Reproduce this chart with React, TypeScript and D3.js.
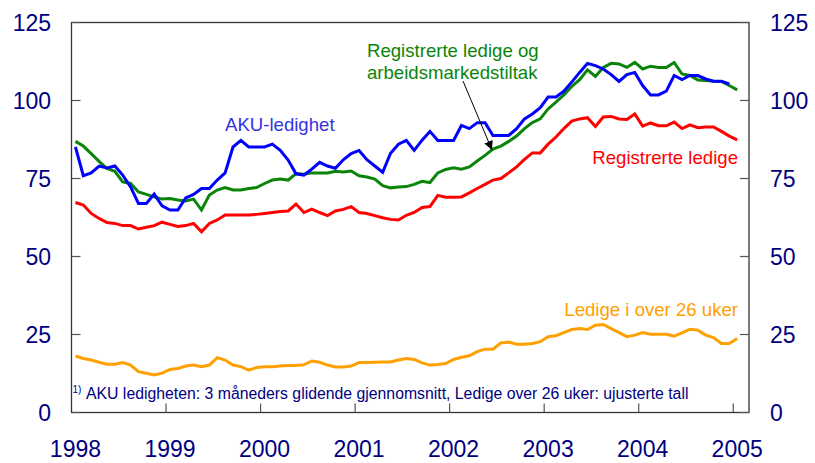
import React, { useRef, useEffect } from "react";
import * as d3 from "d3";

// monthly, Jan 1998 - Jan 2005 (index 0 = Jan 1998)
const years = [1998, 1999, 2000, 2001, 2002, 2003, 2004, 2005];
const yTicks = [0, 25, 50, 75, 100, 125];

const aku = [
  85.1, 75.9, 76.8, 79.0, 78.4, 79.0, 76.1, 72.3, 67.0, 67.0, 70.0, 66.2,
  64.9, 64.9, 68.8, 69.9, 71.8, 71.8, 74.5, 76.8, 85.1, 87.2, 85.1, 85.1,
  85.1, 86.0, 84.0, 80.9, 76.5, 76.1, 78.0, 80.2, 79.0, 78.3, 81.0, 83.0,
  84.0, 81.0, 79.0, 77.0, 83.1, 86.0, 87.2, 84.0, 87.3, 90.1, 87.2, 87.2,
  87.2, 92.0, 91.0, 92.9, 92.9, 88.8, 88.8, 88.8, 91.0, 94.1, 95.7, 97.7,
  101.1, 101.1, 103.0, 105.9, 109.0, 111.9, 111.2, 110.1, 108.3, 106.1, 108.3, 109.0,
  104.8, 101.8, 101.8, 103.0, 108.0, 106.7, 108.0, 108.0, 106.9, 106.2, 106.2, 105.3,
];

const regTiltak = [
  86.9, 85.4, 83.0, 80.5, 78.2, 77.3, 73.9, 73.4, 70.7, 69.9, 69.1, 68.4,
  68.6, 68.1, 67.8, 68.4, 64.9, 69.7, 71.3, 72.1, 71.3, 71.3, 71.8, 72.1,
  73.4, 74.5, 74.8, 74.5, 76.6, 76.4, 76.8, 76.8, 76.8, 77.3, 77.1, 77.4,
  75.9, 75.5, 74.8, 72.7, 72.0, 72.3, 72.4, 73.1, 74.1, 73.7, 76.8, 77.9,
  78.4, 78.0, 78.7, 80.6, 82.4, 84.4, 85.4, 86.9, 88.6, 91.0, 92.9, 94.1,
  97.3, 99.5, 101.8, 104.5, 106.7, 109.8, 107.7, 110.6, 111.9, 111.7, 110.6, 112.2,
  110.1, 111.0, 110.6, 110.6, 112.2, 108.5, 108.0, 106.6, 106.4, 106.2, 106.1, 104.8,
  103.4,
];

const registrerte = [
  67.3, 66.5, 63.8, 62.2, 60.9, 60.6, 59.9, 59.9, 58.8, 59.4, 59.9, 61.0,
  60.3, 59.6, 59.9, 60.6, 57.9, 60.6, 61.7, 63.3, 63.3, 63.3, 63.3, 63.5,
  63.8, 64.1, 64.4, 64.6, 66.8, 64.1, 65.2, 64.1, 63.1, 64.6, 65.1, 66.0,
  64.1, 63.8, 63.1, 62.4, 61.9, 61.7, 63.2, 64.1, 65.7, 66.0, 69.6, 69.0,
  69.0, 69.1, 70.4, 71.8, 73.1, 74.5, 75.0, 76.8, 78.7, 81.1, 83.2, 83.2,
  86.0, 88.3, 91.0, 93.4, 94.1, 94.5, 91.7, 94.7, 94.9, 94.1, 93.9, 95.7,
  91.8, 92.8, 91.9, 91.9, 93.1, 91.0, 92.2, 91.3, 91.5, 91.5, 90.1, 88.6,
  87.4,
];

const over26 = [
  18.1, 17.3, 16.8, 16.1, 15.5, 15.5, 16.0, 15.2, 13.1, 12.6, 12.0, 12.6,
  13.8, 14.1, 14.9, 15.2, 14.7, 15.2, 17.6, 16.8, 15.2, 14.7, 13.6, 14.4,
  14.7, 14.7, 14.9, 15.1, 15.1, 15.3, 16.5, 16.1, 15.2, 14.6, 14.6, 14.9,
  16.0, 16.0, 16.1, 16.2, 16.2, 16.8, 17.3, 17.0, 15.9, 15.2, 15.4, 15.7,
  17.0, 17.7, 18.2, 19.5, 20.3, 20.3, 22.3, 22.6, 21.9, 21.9, 22.1, 22.7,
  24.3, 24.6, 25.6, 26.6, 26.9, 26.6, 28.0, 28.2, 26.9, 25.6, 24.3, 24.8,
  25.6, 25.1, 25.1, 25.1, 24.5, 25.5, 26.7, 26.4, 24.8, 24.0, 22.1, 22.1,
  23.7,
];

const series = [
  { name: "over26", values: over26, color: "#FFA000" },
  { name: "registrerte", values: registrerte, color: "#FF0000" },
  { name: "regTiltak", values: regTiltak, color: "#0A850A" },
  { name: "aku", values: aku, color: "#0000FF" },
];

const navy = "#000080";
const font = "Arial, 'Liberation Sans', sans-serif";

const App = () => {
  const node: any = useRef();

  useEffect(() => {
    const width = 815,
      height = 463;
    const left = 71.5,
      right = 749,
      top = 22.5,
      bottom = 412.5;

    const svg = d3.select(node.current).attr("width", width).attr("height", height);
    svg.selectAll("*").remove();

    const x = d3.scaleLinear().domain([0, 86]).range([left, right]);
    const y = d3.scaleLinear().domain([0, 125]).range([bottom, top]);

    // frame
    svg
      .append("rect")
      .attr("x", left)
      .attr("y", top)
      .attr("width", right - left)
      .attr("height", bottom - top)
      .attr("fill", "none")
      .attr("stroke", "#333")
      .attr("stroke-width", 1.3);

    // y ticks + labels, both sides
    const yt = svg.append("g");
    yTicks.forEach((t) => {
      yt.append("line")
        .attr("x1", left).attr("x2", left + 9)
        .attr("y1", y(t)).attr("y2", y(t))
        .attr("stroke", "#555").attr("stroke-width", 1.2);
      yt.append("line")
        .attr("x1", right - 9).attr("x2", right)
        .attr("y1", y(t)).attr("y2", y(t))
        .attr("stroke", "#555").attr("stroke-width", 1.2);
      yt.append("text")
        .attr("x", 51).attr("y", y(t)).attr("dy", "0.36em")
        .attr("text-anchor", "end")
        .attr("font-family", font).attr("font-size", 23).attr("fill", navy)
        .text(t);
      yt.append("text")
        .attr("x", 770).attr("y", y(t)).attr("dy", "0.36em")
        .attr("text-anchor", "start")
        .attr("font-family", font).attr("font-size", 23).attr("fill", navy)
        .text(t);
    });

    // x ticks + labels
    const xt = svg.append("g");
    years.forEach((yr, k) => {
      const m = k * 12;
      if (k > 0) {
        xt.append("line")
          .attr("x1", x(m)).attr("x2", x(m))
          .attr("y1", bottom).attr("y2", bottom - 9)
          .attr("stroke", "#555").attr("stroke-width", 1.2);
      }
      xt.append("text")
        .attr("x", x(m + 0.5)).attr("y", 457)
        .attr("text-anchor", "middle")
        .attr("font-family", font).attr("font-size", 23).attr("fill", navy)
        .text(yr);
    });

    // lines
    const line = d3
      .line<number>()
      .x((d, i) => x(i + 0.5))
      .y((d) => y(d));

    series.forEach((s) => {
      svg
        .append("path")
        .datum(s.values)
        .attr("d", line)
        .attr("fill", "none")
        .attr("stroke", s.color)
        .attr("stroke-width", 3)
        .attr("stroke-linejoin", "miter");
    });

    // labels
    const lab = svg.append("g").attr("font-family", font).attr("font-size", 18.6);
    lab.append("text").attr("x", 225).attr("y", 131).attr("fill", "#3434E0").text("AKU-ledighet");
    lab.append("text").attr("x", 367).attr("y", 57).attr("fill", "#0A850A").text("Registrerte ledige og");
    lab.append("text").attr("x", 367).attr("y", 79).attr("fill", "#0A850A").text("arbeidsmarkedstiltak");
    lab.append("text").attr("x", 738).attr("y", 164).attr("text-anchor", "end").attr("fill", "#FF0000").text("Registrerte ledige");
    lab.append("text").attr("x", 738).attr("y", 316).attr("text-anchor", "end").attr("fill", "#FFA000").text("Ledige i over 26 uker");

    // arrow
    svg
      .append("defs")
      .append("marker")
      .attr("id", "arr")
      .attr("viewBox", "0 0 10 10")
      .attr("refX", 10)
      .attr("refY", 5)
      .attr("markerWidth", 9)
      .attr("markerHeight", 9)
      .attr("markerUnits", "userSpaceOnUse")
      .attr("orient", "auto")
      .append("path")
      .attr("d", "M0,0L10,5L0,10z")
      .attr("fill", "#000");
    svg
      .append("line")
      .attr("x1", 463).attr("y1", 81)
      .attr("x2", 492).attr("y2", 150)
      .attr("stroke", "#000").attr("stroke-width", 1)
      .attr("marker-end", "url(#arr)");

    // footnote
    const fn = svg.append("text").attr("font-family", font).attr("fill", navy).attr("y", 399);
    fn.append("tspan").attr("x", 72.5).attr("dy", -6).attr("font-size", 10).text("1)");
    fn.append("tspan")
      .attr("x", 86).attr("dy", 6).attr("font-size", 15.8)
      .text("AKU ledigheten: 3 måneders glidende gjennomsnitt, Ledige over 26 uker: ujusterte tall");
  }, []);

  return (
    <div style={{ position: "absolute", left: 0, top: 0 }}>
      <svg ref={node} style={{ display: "block" }}></svg>
    </div>
  );
};

export default App;
